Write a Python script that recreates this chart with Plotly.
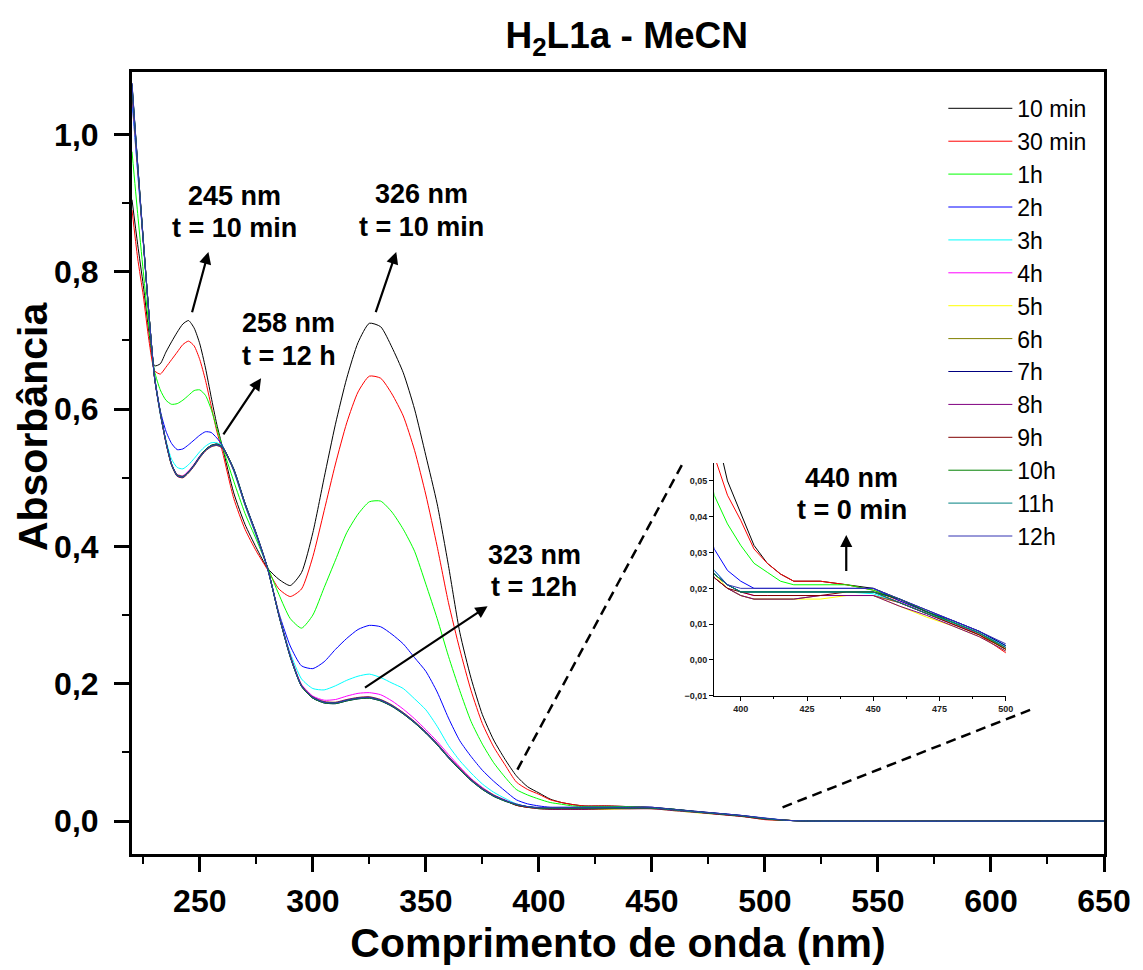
import plotly.graph_objects as go

# Wavelength grid (nm)
wavelength = [220, 222.5, 225, 227.5, 230, 232.5, 235, 237.5, 240, 242.5, 245, 247.5, 250, 252.5, 255, 257.5,
              260, 265, 270, 275, 280, 285, 290, 295, 300, 305, 310, 315, 320, 325, 330, 335, 340, 345, 350,
              355, 360, 365, 370, 375, 380, 385, 390, 395, 400, 405, 410, 415, 420,
              430, 440, 450, 460, 470, 480, 490, 500, 510, 520, 650]

labels = ["10 min", "30 min", "1h", "2h", "3h", "4h", "5h", "6h", "7h", "8h", "9h", "10h", "11h", "12h"]
colors = ["#000000", "#FF0000", "#00FF00", "#0000FF", "#00FFFF", "#FF00FF", "#FFFF00",
          "#808000", "#000080", "#800080", "#800000", "#008000", "#008080", "#3333B2"]

abs_10min = [0.905, 0.840, 0.780, 0.712, 0.663, 0.666, 0.683, 0.698, 0.712, 0.724, 0.729, 0.718, 0.695, 0.660, 0.618, 0.578,
             0.545, 0.478, 0.432, 0.398, 0.368, 0.352, 0.343, 0.362, 0.420, 0.500, 0.578, 0.645, 0.697, 0.725, 0.720, 0.690, 0.653,
             0.600, 0.532, 0.462, 0.372, 0.275, 0.208, 0.155, 0.118, 0.090, 0.066, 0.050, 0.041, 0.032, 0.027, 0.024, 0.022,
             0.022, 0.021, 0.020, 0.017, 0.0135, 0.0105, 0.0075, 0.003, 0.001, 0.0, 0.0]
abs_30min = [0.890, 0.820, 0.765, 0.700, 0.656, 0.651, 0.661, 0.672, 0.683, 0.694, 0.699, 0.692, 0.672, 0.642, 0.605, 0.568,
             0.538, 0.470, 0.425, 0.393, 0.366, 0.338, 0.327, 0.338, 0.385, 0.452, 0.520, 0.580, 0.625, 0.648, 0.645, 0.622, 0.590,
             0.540, 0.475, 0.400, 0.318, 0.250, 0.190, 0.142, 0.108, 0.082, 0.057, 0.046, 0.039, 0.031, 0.027, 0.024, 0.022,
             0.022, 0.021, 0.0195, 0.0165, 0.0135, 0.0105, 0.007, 0.002, 0.001, 0.0, 0.0]
abs_1h = [0.975, 0.885, 0.800, 0.720, 0.655, 0.628, 0.613, 0.607, 0.608, 0.613, 0.620, 0.627, 0.628, 0.620, 0.600, 0.572,
          0.545, 0.495, 0.448, 0.410, 0.370, 0.330, 0.295, 0.281, 0.300, 0.340, 0.380, 0.420, 0.447, 0.465, 0.466, 0.450, 0.425,
          0.393, 0.345, 0.295, 0.240, 0.190, 0.145, 0.112, 0.085, 0.064, 0.046, 0.038, 0.032, 0.027, 0.0245, 0.022, 0.021,
          0.021, 0.021, 0.0195, 0.017, 0.0135, 0.0105, 0.0075, 0.003, 0.001, 0.0, 0.0]
abs_2h = [1.050, 0.945, 0.842, 0.738, 0.648, 0.598, 0.568, 0.550, 0.541, 0.542, 0.548, 0.555, 0.562, 0.567, 0.566, 0.558,
          0.547, 0.510, 0.460, 0.415, 0.367, 0.303, 0.255, 0.226, 0.222, 0.232, 0.250, 0.266, 0.279, 0.285, 0.283, 0.272, 0.258,
          0.238, 0.218, 0.188, 0.150, 0.117, 0.094, 0.074, 0.058, 0.044, 0.031, 0.025, 0.022, 0.020, 0.020, 0.020, 0.020,
          0.020, 0.020, 0.020, 0.0165, 0.0135, 0.011, 0.008, 0.004, 0.001, 0.0, 0.0]
abs_3h = [1.060, 0.950, 0.845, 0.738, 0.646, 0.592, 0.555, 0.527, 0.515, 0.513, 0.519, 0.528, 0.538, 0.546, 0.551, 0.551,
          0.546, 0.510, 0.460, 0.416, 0.367, 0.300, 0.245, 0.207, 0.193, 0.191, 0.197, 0.205, 0.211, 0.214, 0.209, 0.201, 0.193,
          0.178, 0.162, 0.138, 0.110, 0.088, 0.070, 0.054, 0.042, 0.033, 0.025, 0.021, 0.019, 0.019, 0.019, 0.019, 0.019,
          0.019, 0.019, 0.0185, 0.016, 0.013, 0.0105, 0.0075, 0.004, 0.001, 0.0, 0.0]
abs_4h = [1.065, 0.953, 0.845, 0.738, 0.645, 0.594, 0.551, 0.520, 0.505, 0.503, 0.510, 0.520, 0.532, 0.541, 0.547, 0.549,
          0.545, 0.512, 0.462, 0.418, 0.368, 0.300, 0.242, 0.199, 0.182, 0.176, 0.177, 0.182, 0.186, 0.187, 0.184, 0.175, 0.163,
          0.149, 0.133, 0.116, 0.097, 0.079, 0.062, 0.049, 0.038, 0.031, 0.024, 0.021, 0.019, 0.018, 0.018, 0.018, 0.018,
          0.018, 0.018, 0.018, 0.016, 0.013, 0.010, 0.0075, 0.0035, 0.001, 0.0, 0.0]
abs_5h = [1.068, 0.954, 0.846, 0.739, 0.646, 0.594, 0.551, 0.518, 0.502, 0.500, 0.507, 0.517, 0.529, 0.539, 0.545, 0.547,
          0.543, 0.511, 0.461, 0.417, 0.368, 0.301, 0.241, 0.198, 0.180, 0.174, 0.173, 0.177, 0.180, 0.181, 0.177, 0.169, 0.158,
          0.145, 0.130, 0.113, 0.094, 0.077, 0.061, 0.048, 0.038, 0.030, 0.024, 0.020, 0.018, 0.017, 0.017, 0.017, 0.017,
          0.017, 0.018, 0.018, 0.015, 0.012, 0.0095, 0.0065, 0.0025, 0.001, 0.0, 0.0]
abs_6h = [1.072, 0.956, 0.846, 0.738, 0.645, 0.596, 0.553, 0.520, 0.504, 0.502, 0.508, 0.518, 0.531, 0.541, 0.547, 0.549,
          0.545, 0.512, 0.462, 0.418, 0.368, 0.300, 0.240, 0.197, 0.179, 0.173, 0.172, 0.176, 0.179, 0.180, 0.176, 0.168, 0.157,
          0.144, 0.129, 0.112, 0.093, 0.076, 0.060, 0.047, 0.037, 0.030, 0.023, 0.020, 0.018, 0.017, 0.017, 0.017, 0.017,
          0.018, 0.018, 0.018, 0.016, 0.013, 0.010, 0.007, 0.003, 0.001, 0.0, 0.0]
abs_7h = [1.075, 0.958, 0.847, 0.739, 0.646, 0.595, 0.552, 0.519, 0.503, 0.501, 0.508, 0.519, 0.531, 0.541, 0.547, 0.549,
          0.545, 0.513, 0.463, 0.419, 0.368, 0.299, 0.239, 0.196, 0.179, 0.172, 0.171, 0.175, 0.178, 0.179, 0.175, 0.167, 0.156,
          0.143, 0.128, 0.111, 0.092, 0.075, 0.059, 0.046, 0.036, 0.029, 0.024, 0.021, 0.019, 0.019, 0.019, 0.019, 0.019,
          0.019, 0.019, 0.019, 0.017, 0.014, 0.011, 0.008, 0.004, 0.001, 0.0, 0.0]
abs_8h = [1.066, 0.953, 0.844, 0.737, 0.644, 0.594, 0.551, 0.518, 0.502, 0.500, 0.507, 0.517, 0.529, 0.539, 0.545, 0.547,
          0.543, 0.511, 0.461, 0.417, 0.368, 0.300, 0.241, 0.198, 0.181, 0.174, 0.173, 0.177, 0.180, 0.181, 0.177, 0.169, 0.158,
          0.145, 0.130, 0.113, 0.094, 0.077, 0.061, 0.048, 0.038, 0.030, 0.023, 0.020, 0.018, 0.017, 0.017, 0.017, 0.017,
          0.018, 0.018, 0.018, 0.015, 0.0125, 0.0095, 0.0065, 0.0025, 0.001, 0.0, 0.0]
abs_9h = [1.069, 0.955, 0.845, 0.738, 0.645, 0.595, 0.552, 0.519, 0.503, 0.501, 0.508, 0.518, 0.530, 0.540, 0.546, 0.548,
          0.544, 0.512, 0.462, 0.418, 0.368, 0.300, 0.240, 0.197, 0.180, 0.173, 0.172, 0.176, 0.179, 0.180, 0.176, 0.168, 0.157,
          0.144, 0.129, 0.112, 0.093, 0.076, 0.060, 0.047, 0.037, 0.030, 0.023, 0.020, 0.019, 0.018, 0.018, 0.018, 0.018,
          0.018, 0.019, 0.019, 0.016, 0.013, 0.010, 0.007, 0.003, 0.001, 0.0, 0.0]
abs_10h = [1.073, 0.957, 0.846, 0.739, 0.646, 0.596, 0.553, 0.520, 0.504, 0.502, 0.509, 0.519, 0.531, 0.541, 0.547, 0.549,
           0.545, 0.513, 0.463, 0.418, 0.368, 0.299, 0.239, 0.196, 0.179, 0.172, 0.171, 0.175, 0.178, 0.179, 0.175, 0.167, 0.156,
           0.143, 0.128, 0.111, 0.092, 0.075, 0.059, 0.046, 0.036, 0.029, 0.024, 0.021, 0.019, 0.019, 0.019, 0.019, 0.019,
           0.019, 0.019, 0.019, 0.017, 0.0135, 0.0105, 0.0075, 0.0035, 0.001, 0.0, 0.0]
abs_11h = [1.071, 0.956, 0.845, 0.738, 0.645, 0.595, 0.552, 0.519, 0.503, 0.501, 0.508, 0.518, 0.530, 0.540, 0.546, 0.548,
           0.544, 0.512, 0.462, 0.418, 0.368, 0.300, 0.240, 0.197, 0.180, 0.173, 0.172, 0.176, 0.179, 0.180, 0.176, 0.168, 0.157,
           0.144, 0.129, 0.112, 0.093, 0.076, 0.060, 0.047, 0.037, 0.030, 0.024, 0.021, 0.019, 0.019, 0.019, 0.019, 0.019,
           0.019, 0.019, 0.019, 0.016, 0.013, 0.0105, 0.0075, 0.0035, 0.001, 0.0, 0.0]
abs_12h = [1.074, 0.957, 0.846, 0.739, 0.646, 0.596, 0.553, 0.520, 0.503, 0.501, 0.508, 0.518, 0.530, 0.540, 0.546, 0.548,
           0.544, 0.512, 0.462, 0.418, 0.368, 0.300, 0.240, 0.197, 0.180, 0.173, 0.172, 0.176, 0.179, 0.180, 0.176, 0.168, 0.157,
           0.144, 0.129, 0.112, 0.093, 0.076, 0.060, 0.047, 0.037, 0.030, 0.025, 0.021, 0.020, 0.020, 0.020, 0.020, 0.020,
           0.020, 0.020, 0.020, 0.017, 0.014, 0.011, 0.008, 0.0045, 0.001, 0.0, 0.0]

series = [abs_10min, abs_30min, abs_1h, abs_2h, abs_3h, abs_4h, abs_5h, abs_6h,
          abs_7h, abs_8h, abs_9h, abs_10h, abs_11h, abs_12h]

FONT = "Arial, Liberation Sans, sans-serif"

fig = go.Figure()
for name, col, vals in zip(labels, colors, series):
    fig.add_trace(go.Scatter(x=wavelength, y=vals, mode="lines", name=name,
                             line=dict(color=col, width=1, shape="spline", smoothing=0.6),
                             xaxis="x", yaxis="y"))
for name, col, vals in zip(labels, colors, series):
    fig.add_trace(go.Scatter(x=wavelength, y=vals, mode="lines", name=name, showlegend=False,
                             line=dict(color=col, width=1), xaxis="x2", yaxis="y2"))

fig.update_layout(
    width=1135, height=962,
    margin=dict(l=124, r=31, t=64, b=112),
    paper_bgcolor="white", plot_bgcolor="white",
    separators=",.",
    font=dict(family=FONT, color="black"),
    title=dict(text="H<sub>2</sub>L1a - MeCN", x=0.509, xref="paper", xanchor="center",
               y=0.972, yref="container", yanchor="middle",
               font=dict(size=37, weight="bold", family=FONT, color="black")),
    showlegend=True,
    legend=dict(x=0.8347, y=0.981, xanchor="left", yanchor="top", bgcolor="rgba(0,0,0,0)",
                font=dict(size=23, family=FONT), tracegroupgap=0, itemwidth=64),
    xaxis=dict(domain=[0, 1], range=[220, 650], tickmode="array",
               tickvals=[250, 300, 350, 400, 450, 500, 550, 600, 650],
               ticks="outside", ticklen=15, tickwidth=2.5, tickcolor="black",
               minor=dict(ticks="outside", dtick=25, tick0=225, ticklen=7, tickwidth=2, tickcolor="black"),
               showline=True, linewidth=3, linecolor="black", mirror=True, showgrid=False, zeroline=False,
               tickfont=dict(size=32, weight="bold", family=FONT), ticklabelstandoff=2,
               title=dict(text="Comprimento de onda (nm)", standoff=10,
                          font=dict(size=41, weight="bold", family=FONT))),
    yaxis=dict(domain=[0, 1], range=[-0.048, 1.091], tick0=0, dtick=0.2, tickformat=".1f",
               ticks="outside", ticklen=15, tickwidth=2.5, tickcolor="black",
               minor=dict(ticks="outside", dtick=0.1, tick0=0, ticklen=7, tickwidth=2, tickcolor="black"),
               showline=True, linewidth=3, linecolor="black", mirror=True, showgrid=False, zeroline=False,
               tickfont=dict(size=32, weight="bold", family=FONT), ticklabelstandoff=9),
    xaxis2=dict(domain=[0.599, 0.899], anchor="y2", range=[390, 500], tickmode="array",
                tickvals=[400, 425, 450, 475, 500],
                ticks="outside", ticklen=4, tickwidth=1, tickcolor="black",
                minor=dict(ticks="outside", dtick=12.5, tick0=400, ticklen=2, tickwidth=1, tickcolor="black"),
                showline=True, linewidth=1.2, linecolor="black", mirror=False, showgrid=False, zeroline=False,
                tickfont=dict(size=9, weight="bold", family=FONT, color="#222")),
    yaxis2=dict(domain=[0.2023, 0.5], anchor="x2", range=[-0.01, 0.055], tick0=0, dtick=0.01, tickformat=".2f",
                ticks="outside", ticklen=4, tickwidth=1, tickcolor="black",
                showline=True, linewidth=1.2, linecolor="black", mirror=False, showgrid=False, zeroline=False,
                tickfont=dict(size=9, weight="bold", family=FONT, color="#222")),
)

# Y-axis title (placed like the reference, slightly above centre)
fig.add_annotation(xref="paper", yref="paper", x=-0.102, y=0.547, text="<b>Absorbância</b>",
                   textangle=-90, showarrow=False, xanchor="center", yanchor="middle",
                   font=dict(size=41, family=FONT, color="black"))

# Zoom guide lines (dashed)
fig.add_shape(type="line", xref="x", yref="y", x0=390.5, y0=0.075, x1=464.3, y1=0.525,
              line=dict(color="black", width=2.5, dash="10px,6px"))
fig.add_shape(type="line", xref="x", yref="y", x0=507.8, y0=0.020, x1=618.9, y1=0.164,
              line=dict(color="black", width=2.5, dash="10px,6px"))

# Arrows (tail -> head)
arrows = [
    ("x", "y", 246.4, 0.739, 253.8, 0.829),
    ("x", "y", 327.6, 0.739, 336.9, 0.829),
    ("x", "y", 260.0, 0.561, 277.1, 0.645),
    ("x", "y", 322.4, 0.193, 377.3, 0.313),
    ("x2", "y2", 439.8, 0.0244, 439.8, 0.0349),
]
for xr, yr, tx, ty, hx, hy in arrows:
    fig.add_annotation(xref=xr, yref=yr, axref=xr, ayref=yr, x=hx, y=hy, ax=tx, ay=ty,
                       text="", showarrow=True, arrowhead=2, arrowsize=1.1, arrowwidth=2.2,
                       arrowcolor="black")

# Text labels (one annotation per line)
texts = [
    (265.3, 0.910, "245 nm"), (265.3, 0.864, "t = 10 min"),
    (347.9, 0.913, "326 nm"), (347.9, 0.865, "t = 10 min"),
    (289.4, 0.725, "258 nm"), (289.4, 0.678, "t = 12 h"),
    (398.0, 0.387, "323 nm"), (398.0, 0.341, "t = 12h"),
    (538.5, 0.500, "440 nm"), (538.5, 0.4536, "t = 0 min"),
]
for tx, ty, t in texts:
    fig.add_annotation(xref="x", yref="y", x=tx, y=ty, text="<b>" + t + "</b>", showarrow=False,
                       font=dict(size=27, family=FONT, color="black"), align="center")

fig.write_html("out.html")
